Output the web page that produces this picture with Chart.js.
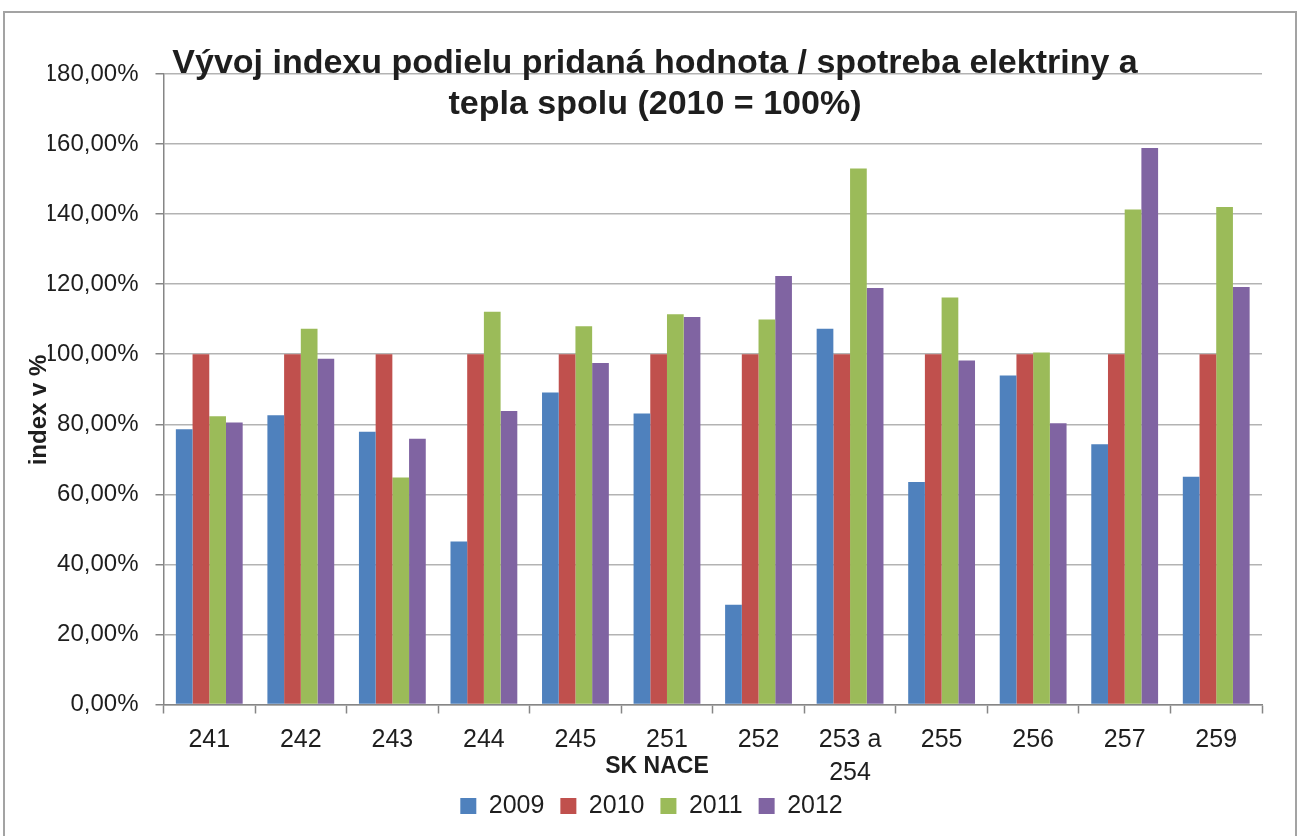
<!DOCTYPE html>
<html lang="sk">
<head>
    <meta charset="UTF-8">
    <title>Vývoj indexu podielu</title>
    <script src="https://cdn.jsdelivr.net/npm/chart.js"></script>
    <style>
        html, body { margin: 0; padding: 0; background: #fff; overflow: hidden; }
        .wrap { position: relative; width: 1302px; height: 836px; }
        /* grey frame round the chart object, as in the document */
        .frame {
          position: absolute;
          left: 3px; top: 11px;
          width: 1294px; height: 900px;
          border: 2px solid #a3a3a3;
          box-sizing: border-box;
        }
        #chart { position: absolute; left: 0; top: 0; }
    </style>
</head>
<body>

<div class="wrap">
    <div class="frame"></div>
    <canvas id="chart" width="1302" height="836"></canvas>
</div>

<script>
  // SK NACE categories and index values (2010 = 100 %)
  const categories = ['241', '242', '243', '244', '245', '251', '252', ['253 a', '254'], '255', '256', '257', '259'];
  const years = ['2009', '2010', '2011', '2012'];
  const values2009 = [78.6, 82.6, 77.9, 46.5, 89.1, 83.1, 28.5, 107.3, 63.5, 93.9, 74.3, 65.0];
  const values2010 = [100, 100, 100, 100, 100, 100, 100, 100, 100, 100, 100, 100];
  const values2011 = [82.3, 107.3, 64.8, 112.1, 108.0, 111.4, 109.9, 153.0, 116.2, 100.5, 141.3, 142.0];
  const values2012 = [80.5, 98.7, 75.9, 83.8, 97.5, 110.6, 122.3, 118.9, 98.2, 80.3, 158.9, 119.2];
  const colors = ['#4F81BD', '#C0504D', '#9BBB59', '#8064A2'];

  const FONT = "'Liberation Sans', Arial, sans-serif";
  const TEXT = '#1e1e1e';

  // axis titles sit where Excel put them (over the tick labels), so draw them by hand
  const axisTitlePlugin = {
    id: 'axisTitles',
    afterDraw(chart) {
      const ctx = chart.ctx;
      ctx.save();
      ctx.fillStyle = TEXT;
      ctx.textAlign = 'center';
      ctx.textBaseline = 'middle';
      ctx.font = 'bold 23px ' + FONT;
      ctx.fillText('SK NACE', 657, 767);
      ctx.translate(39, 410);
      ctx.rotate(-Math.PI / 2);
      ctx.font = 'bold 24px ' + FONT;
      ctx.fillText('index v %', 0, 0);
      ctx.restore();
    }
  };

  const series = [values2009, values2010, values2011, values2012];

  var ctx = document.getElementById('chart').getContext('2d');
  var chart = new Chart(ctx, {
    type: 'bar',
    data: {
      labels: categories,
      datasets: years.map((y, i) => ({
        label: y,
        data: series[i],
        backgroundColor: colors[i],
        borderWidth: 0,
        barPercentage: 1.0,
        categoryPercentage: 0.73
      }))
    },
    options: {
      responsive: false,
      animation: false,
      layout: { padding: { left: 48, right: 40, top: 0, bottom: 7.5 } },
      plugins: {
        title: {
          display: true,
          text: ['Vývoj indexu podielu pridaná hodnota / spotreba elektriny a', 'tepla spolu (2010 = 100%)'],
          color: TEXT,
          font: { family: FONT, size: 34, weight: 'bold', lineHeight: 41 / 34 },
          padding: { top: 43, bottom: -51 }
        },
        legend: {
          position: 'bottom',
          labels: {
            color: TEXT,
            font: { family: FONT, size: 25 },
            boxWidth: 16,
            boxHeight: 16,
            padding: 9,
            // a trailing space widens each entry to the Excel spacing
            generateLabels(chart) {
              return Chart.defaults.plugins.legend.labels.generateLabels(chart)
                .map(item => Object.assign(item, { text: item.text + ' ' }));
            }
          }
        },
        tooltip: { enabled: false }
      },
      scales: {
        x: {
          afterFit(scale) { scale.height = 80; },
          grid: {
            drawOnChartArea: false,
            drawTicks: true,
            tickLength: 9,
            tickColor: '#868686',
            tickWidth: 1.5
          },
          border: { color: '#868686', width: 1.5 },
          ticks: {
            color: TEXT,
            font: { family: FONT, size: 25, lineHeight: 33 / 25 },
            padding: 10,
            maxRotation: 0,
            autoSkip: false
          }
        },
        y: {
          min: 0,
          max: 180,
          afterFit(scale) { scale.width = 115.5; },
          grid: {
            color: '#b3b3b3',
            lineWidth: 1.5,
            drawTicks: true,
            tickLength: 8,
            tickColor: '#868686'
          },
          border: { color: '#868686', width: 1.5 },
          ticks: {
            stepSize: 20,
            color: TEXT,
            font: { family: FONT, size: 24 },
            padding: 17,
            callback: v => v.toFixed(2).replace('.', ',') + '%'
          }
        }
      }
    },
    plugins: [axisTitlePlugin]
  });
</script>

</body>
</html>
